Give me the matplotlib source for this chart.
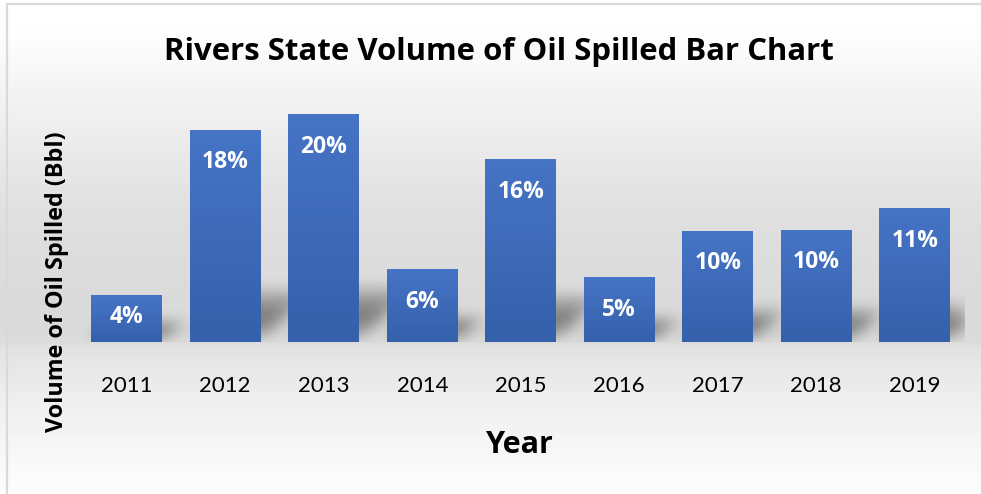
import numpy as np
import matplotlib.pyplot as plt

years = ["2011", "2012", "2013", "2014", "2015", "2016", "2017", "2018", "2019"]
spill_share = [4.07, 18.7, 20.1, 6.4, 16.1, 5.7, 9.8, 9.9, 11.8]
bar_labels = ["4%", "18%", "20%", "6%", "16%", "5%", "10%", "10%", "11%"]

W, H = 981, 494
plt.rcParams["font.family"] = ["Lato", "DejaVu Sans"]
bold_font = ["Open Sans", "DejaVu Sans"]
fig = plt.figure(figsize=(W / 100, H / 100), dpi=100)

# chart-area background: vertical grey gradient
bg = fig.add_axes([0, 0, 1, 1], zorder=0)
grad_y = [0, 30, 100, 160, 220, 300, 342, 346, 400, 440, 494]
grad_v = [1.0, 0.995, 0.95, 0.91, 0.875, 0.855, 0.86, 0.885, 0.935, 0.96, 0.995]
rows = np.interp(np.arange(H), grad_y, grad_v)
bg.imshow(np.repeat(rows[:, None], W, axis=1), cmap="gray", vmin=0, vmax=1,
          extent=(0, W, H, 0), aspect="auto", interpolation="bilinear")
bg.plot([7, 7, W], [H, 4, 4], color="#d9d9d9", lw=1.6)
bg.set_xlim(0, W)
bg.set_ylim(H, 0)
bg.axis("off")

# plot area
left_px, right_px, top_px, base_px = 77.5, 964, 90, 342
ax = fig.add_axes([left_px / W, (H - base_px) / H, (right_px - left_px) / W,
                   (base_px - top_px) / H], zorder=1)
ax.patch.set_visible(False)
ymax = 22.28
px_per_unit = (base_px - top_px) / ymax
x = np.arange(len(years))
bw = 0.72

# soft shadows behind the bars
nx, ny = int(right_px - left_px), int(base_px - top_px)
gx = np.linspace(-0.5, 8.5, nx)
gy = np.linspace(0, ymax, ny)
XX, YY = np.meshgrid(gx, gy)
shade = np.zeros_like(XX)
for xi, v in zip(x, spill_share):
    hs = 1.3 + 0.2 * v
    t = np.clip(YY / hs, 0, 1)
    shift = 0.11 * YY
    inside = (XX - shift >= xi - bw / 2) & (XX - shift <= xi + bw / 2) & (YY <= hs)
    shade = np.maximum(shade, inside * np.sin(np.pi * t ** 0.8))
kern = np.exp(-0.5 * (np.arange(-30, 31) / 9.0) ** 2)
kern /= kern.sum()
shade = np.apply_along_axis(lambda r: np.convolve(r, kern, mode="same"), 1, shade)
kern2 = np.exp(-0.5 * (np.arange(-20, 21) / 6.0) ** 2)
kern2 /= kern2.sum()
shade = np.apply_along_axis(lambda c: np.convolve(c, kern2, mode="same"), 0, shade)
rgba = np.zeros((ny, nx, 4))
rgba[..., 3] = 0.42 * shade
ax.imshow(rgba, extent=(-0.5, 8.5, 0, ymax), origin="lower", aspect="auto", zorder=1)

# gradient bars
top_c = np.array([0x46, 0x74, 0xC6]) / 255
bot_c = np.array([0x35, 0x60, 0xAA]) / 255
ramp = np.linspace(0, 1, 100)[:, None]
bar_img = (bot_c[None, :] * (1 - ramp) + top_c[None, :] * ramp)[:, None, :]
for xi, v, lab in zip(x, spill_share, bar_labels):
    ax.imshow(bar_img, extent=(xi - bw / 2, xi + bw / 2, 0, v), origin="lower",
              aspect="auto", zorder=2, interpolation="bilinear")
    h_px = v * px_per_unit
    off = min(38, h_px - 19)
    ax.annotate(lab, xy=(xi, v), xytext=(0, -off), textcoords="offset pixels",
                ha="center", va="baseline", color="white", fontsize=16.5,
                fontweight="bold", family=bold_font, zorder=3)
    ax.annotate(years[xi], xy=(xi, 0), xytext=(0, -50), textcoords="offset pixels",
                ha="center", va="baseline", color="black", fontsize=16,
                annotation_clip=False)

ax.set_xlim(-0.5, 8.5)
ax.set_ylim(0, ymax)
ax.set_xticks([])
ax.set_yticks([])
for s in ax.spines.values():
    s.set_visible(False)

fig.text(499 / W, 1 - 60 / H, "Rivers State Volume of Oil Spilled Bar Chart",
         ha="center", va="baseline", fontsize=22.4, fontweight="bold",
         family=bold_font)
fig.text(519.5 / W, 1 - 453 / H, "Year", ha="center", va="baseline",
         fontsize=22, fontweight="bold", family=bold_font)
fig.text(63 / W, 1 - 282 / H, "Volume of Oil Spilled (Bbl)", rotation=90,
         rotation_mode="anchor", ha="center", va="baseline", fontsize=16.8,
         fontweight="bold", family=bold_font)

fig.savefig("out.png", dpi=100)
